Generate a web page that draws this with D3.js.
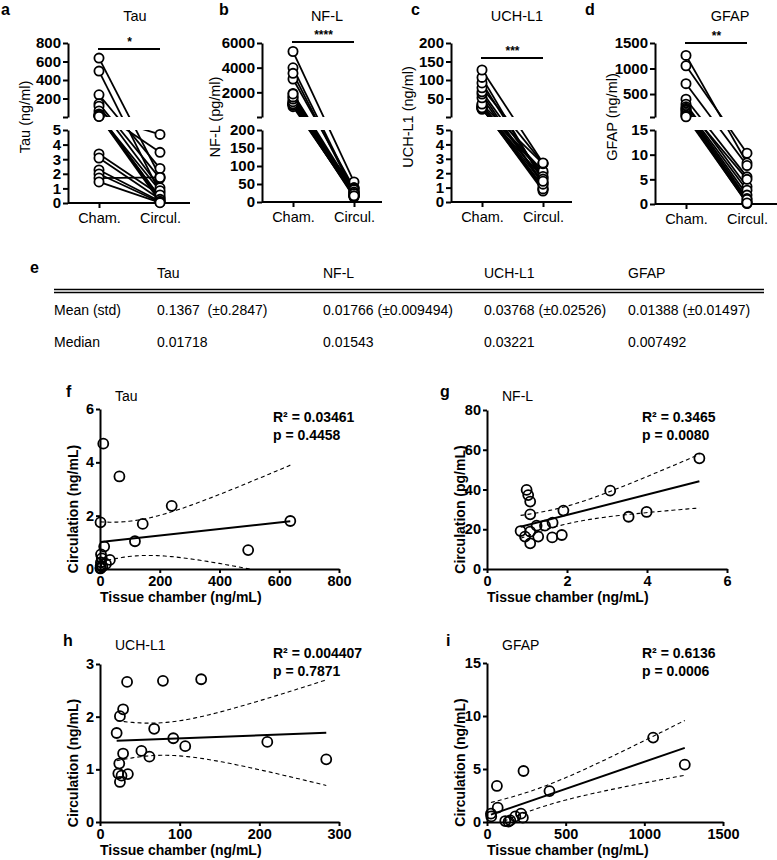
<!DOCTYPE html>
<html>
<head>
<meta charset="utf-8">
<script src="https://cdn.jsdelivr.net/npm/d3@7"></script>
<style>
  body { margin: 0; background: #fff; }
  svg text { font-family: "Liberation Sans", Arial, Helvetica, sans-serif; fill: #000; }
</style>
</head>
<body>
<svg id="fig" width="777" height="860"></svg>
<script>
// ---- data ----
var catLabels = ["Cham.", "Circul."];

// Tau (a, f): chamber ng/ml, circulation ng/ml
var tauChamber = [637, 496, 240, 143, 117, 65, 33, 20, 14, 11, 8, 6, 3.36, 3.08, 2.26, 1.99, 1.71, 1.44];
var tauCirc    = [1.80, 0.71, 2.37, 1.69, 1.04, 3.47, 0.34, 0.19, 0.84, 4.70, 0.09, 0.40, 0.55, 0.25, 0.12, 0.05, 1.75, 0.02];

// NF-L (b, g): chamber ng/mL, circulation pg/mL
var nflChamber = [5.31, 3.08, 3.99, 3.54, 1.91, 0.99, 1.03, 1.08, 1.08, 0.84, 0.95, 1.08, 1.08, 1.28, 1.24, 1.45, 1.64, 1.63, 1.87];
var nflCirc    = [55.7, 39.4, 28.7, 26.3, 29.4, 39.8, 37.2, 33.9, 27.5, 19.1, 16.3, 12.9, 18.8, 16.3, 21.8, 21.8, 23.3, 15.9, 17.1];

// UCH-L1 (c, h)
var uchChamber = [20.9, 24.2, 25, 29, 34, 29, 23, 27, 25, 35, 52, 62, 68, 79, 92, 107, 127, 210, 284];
var uchCirc    = [1.69, 1.11, 2.01, 2.14, 2.66, 1.30, 0.92, 0.88, 0.76, 0.91, 1.35, 1.24, 1.77, 2.68, 1.59, 1.44, 2.71, 1.52, 1.19];

// GFAP paired (d)
var gfapPairChamber = [1257, 1054, 703, 398, 300, 250, 220, 200, 180, 150, 120, 90, 70, 55];
var gfapPairCirc    = [8.3, 10.3, 7.8, 5.5, 3.5, 5.0, 2.8, 1.8, 1.1, 0.5, 0.3, 0.1, 0.9, 0.2];

// GFAP scatter (i)
var gfapChamber = [1056, 1257, 232, 63, 397, 68, 25, 27, 216, 228, 180, 116, 148, 137];
var gfapCirc    = [7.96, 5.41, 4.81, 3.40, 2.92, 1.35, 0.79, 0.53, 0.79, 0.41, 0.53, 0.09, 0.16, 0.03];

// axis ticks
var tauUpperTicks = [200, 400, 600, 800], tauLowerTicks = [0, 1, 2, 3, 4, 5];
var nflUpperTicks = [2000, 4000, 6000], nflLowerTicks = [0, 50, 100, 150, 200];
var uchUpperTicks = [50, 100, 150, 200], uchLowerTicks = [0, 1, 2, 3, 4, 5];
var gfapUpperTicks = [500, 1000, 1500], gfapLowerTicks = [0, 5, 10, 15];

var sigStars = ["*", "****", "***", "**"];
var r2Labels = ["R\u00b2 = 0.03461", "R\u00b2 = 0.3465", "R\u00b2 = 0.004407", "R\u00b2 = 0.6136"];
var pLabels = ["p = 0.4458", "p = 0.0080", "p = 0.7871", "p = 0.0006"];

// table e
var tableCols = ["Tau", "NF-L", "UCH-L1", "GFAP"];
var meanStd = ["0.1367  (\u00b10.2847)", "0.01766 (\u00b10.009494)", "0.03768 (\u00b10.02526)", "0.01388 (\u00b10.01497)"];
var medians = ["0.01718", "0.01543", "0.03221", "0.007492"];

var svg = d3.select("#fig");
var FONT = '"Liberation Sans", Arial, Helvetica, sans-serif';
var plain = function(v) { return String(v); };

function styleAxis(g, fs) {
  g.attr("font-family", FONT).attr("font-size", fs || 14).attr("font-weight", "bold");
  g.selectAll("path, line").attr("stroke", "#000").attr("stroke-width", 2);
  g.selectAll("text").attr("fill", "#000");
}

function letter(t, x, y) {
  svg.append("text").attr("x", x).attr("y", y).attr("font-size", 16)
    .attr("font-weight", "bold").text(t);
}

// ---- paired panels a-d ----
function paired(p) {
  var g = svg.append("g");
  var x = d3.scalePoint().domain(catLabels).range([p.ax + 31, p.ax + 92]);
  var yUp = d3.scaleLinear().domain(p.upDom).range([117, 43]);
  var yLo = d3.scaleLinear().domain(p.loDom).range([p.base, 130]);
  var yOf = function(v) { return v > p.loDom[1] ? yUp(v) : yLo(v); };

  var defs = g.append("defs");
  defs.append("clipPath").attr("id", p.id + "up").append("rect")
    .attr("x", p.ax).attr("y", 0).attr("width", p.xEnd - p.ax).attr("height", 117);
  defs.append("clipPath").attr("id", p.id + "lo").append("rect")
    .attr("x", p.ax).attr("y", 130).attr("width", p.xEnd - p.ax).attr("height", 90);

  var pairs = p.cham.map(function(c, i) { return [c * (p.k || 1), p.circ[i]]; })
    .filter(function(d) { return d[0] <= p.upDom[1]; });

  var line = d3.line();
  ["up", "lo"].forEach(function(part) {
    g.append("g").attr("clip-path", "url(#" + p.id + part + ")")
      .selectAll("path").data(pairs).enter().append("path")
      .attr("d", function(d) { return line([[x(catLabels[0]), yOf(d[0])], [x(catLabels[1]), yOf(d[1])]]); })
      .attr("stroke", "#000").attr("stroke-width", 1.8).attr("fill", "none");
  });

  // axes
  var upAx = g.append("g").attr("transform", "translate(" + p.ax + ",0)")
    .call(d3.axisLeft(yUp).tickValues([p.upDom[0]].concat(p.upTicks)).tickSize(5).tickSizeOuter(0)
      .tickPadding(2).tickFormat(function(v) { return v === p.upDom[0] ? "" : String(v); }));
  styleAxis(upAx, 15);
  var loAx = g.append("g").attr("transform", "translate(" + p.ax + ",0)")
    .call(d3.axisLeft(yLo).tickValues(p.loTicks).tickSize(5).tickSizeOuter(0).tickPadding(2).tickFormat(plain));
  styleAxis(loAx, 15);
  var xAx = g.append("g").attr("transform", "translate(0," + p.base + ")")
    .call(d3.axisBottom(x).tickSize(5).tickPadding(5));
  xAx.select(".domain").remove();
  xAx.append("line").attr("x1", p.ax).attr("x2", p.xEnd).attr("y1", 0).attr("y2", 0);
  styleAxis(xAx, 14.5);
  xAx.attr("font-weight", "normal");

  // points
  var pts = [];
  pairs.forEach(function(d) { pts.push([0, d[0]]); pts.push([1, d[1]]); });
  g.selectAll("circle").data(pts).enter().append("circle")
    .attr("cx", function(d) { return x(catLabels[d[0]]); })
    .attr("cy", function(d) { return yOf(d[1]); })
    .attr("r", 4.6).attr("fill", "#fff").attr("stroke", "#000").attr("stroke-width", 1.8);

  // significance bar
  g.append("line").attr("x1", x(catLabels[0]) - 1).attr("x2", x(catLabels[1]))
    .attr("y1", p.sigY).attr("y2", p.sigY).attr("stroke", "#000").attr("stroke-width", 2);
  g.append("text").attr("x", (x(catLabels[0]) + x(catLabels[1])) / 2).attr("y", p.sigY - 3)
    .attr("text-anchor", "middle").attr("font-size", 12).attr("font-weight", "bold").text(p.star);

  g.append("text").attr("x", p.titleX).attr("y", 21).attr("text-anchor", "middle")
    .attr("font-size", 14.5).text(p.title);
  g.append("text").attr("transform", "translate(" + p.labX + ",117) rotate(-90)")
    .attr("text-anchor", "middle").attr("font-size", 14.5).text(p.ylab);
  letter(p.letter, p.letX, 15);
}

paired({id: "a", ax: 68, xEnd: 190, base: 203, upDom: [0, 800], loDom: [0, 5],
  upTicks: tauUpperTicks, loTicks: tauLowerTicks, cham: tauChamber, circ: tauCirc,
  sigY: 49, star: sigStars[0], title: "Tau", titleX: 135, ylab: "Tau (ng/ml)", labX: 30,
  letter: "a", letX: 1});
paired({id: "b", ax: 262, xEnd: 382, base: 202, upDom: [0, 6000], loDom: [0, 200], k: 1000,
  upTicks: nflUpperTicks, loTicks: nflLowerTicks, cham: nflChamber, circ: nflCirc,
  sigY: 42, star: sigStars[1], title: "NF-L", titleX: 327, ylab: "NF-L (pg/ml)", labX: 220,
  letter: "b", letX: 219});
paired({id: "c", ax: 451, xEnd: 572, base: 202, upDom: [0, 200], loDom: [0, 5],
  upTicks: uchUpperTicks, loTicks: uchLowerTicks, cham: uchChamber, circ: uchCirc,
  sigY: 58, star: sigStars[2], title: "UCH-L1", titleX: 517, ylab: "UCH-L1 (ng/ml)", labX: 413,
  letter: "c", letX: 411});
paired({id: "d", ax: 655, xEnd: 777, base: 204, upDom: [50, 1500], loDom: [0, 15],
  upTicks: gfapUpperTicks, loTicks: gfapLowerTicks, cham: gfapPairChamber, circ: gfapPairCirc,
  sigY: 43, star: sigStars[3], title: "GFAP", titleX: 730, ylab: "GFAP (ng/ml)", labX: 617,
  letter: "d", letX: 585});

// ---- table e ----
letter("e", 30, 273);
var colX = [157, 323, 484, 628];
var tbl = svg.append("g").attr("font-size", 14);
tbl.selectAll(".hd").data(tableCols).enter().append("text")
  .attr("x", function(d, i) { return colX[i]; }).attr("y", 278).text(function(d) { return d; });
tbl.append("line").attr("x1", 54).attr("x2", 764).attr("y1", 289.5).attr("y2", 289.5).attr("stroke", "#000").attr("stroke-width", 1.5);
tbl.append("line").attr("x1", 54).attr("x2", 764).attr("y1", 292.5).attr("y2", 292.5).attr("stroke", "#000").attr("stroke-width", 1.5);
tbl.append("text").attr("x", 54).attr("y", 315).text("Mean (std)");
tbl.append("text").attr("x", 54).attr("y", 347).text("Median");
tbl.selectAll(".mn").data(meanStd).enter().append("text").style("white-space", "pre")
  .attr("x", function(d, i) { return colX[i]; }).attr("y", 315).text(function(d) { return d; });
tbl.selectAll(".md").data(medians).enter().append("text")
  .attr("x", function(d, i) { return colX[i]; }).attr("y", 347).text(function(d) { return d; });

// ---- regression scatter panels f-i ----
function tq(df) {
  var z = 1.959964;
  return z + (Math.pow(z, 3) + z) / (4 * df) + (5 * Math.pow(z, 5) + 16 * Math.pow(z, 3) + 3 * z) / (96 * df * df)
    + (3 * Math.pow(z, 7) + 19 * Math.pow(z, 5) + 17 * Math.pow(z, 3) - 15 * z) / (384 * Math.pow(df, 3));
}
function linfit(xs, ys) {
  var n = xs.length, mx = d3.mean(xs), my = d3.mean(ys), sxx = 0, sxy = 0, sse = 0;
  xs.forEach(function(v, i) { sxx += (v - mx) * (v - mx); sxy += (v - mx) * (ys[i] - my); });
  var b = sxy / sxx, a = my - b * mx;
  xs.forEach(function(v, i) { var r = ys[i] - (a + b * v); sse += r * r; });
  var s = Math.sqrt(sse / (n - 2)), t = tq(n - 2);
  return { f: function(v) { return a + b * v; },
           h: function(v) { return t * s * Math.sqrt(1 / n + (v - mx) * (v - mx) / sxx); } };
}

function scatter(p) {
  var g = svg.append("g");
  var x = d3.scaleLinear().domain(p.xDom).range([p.x0, p.x1]);
  var y = d3.scaleLinear().domain(p.yDom).range([p.y0, p.y1]);
  g.append("defs").append("clipPath").attr("id", "clip" + p.letter).append("rect")
    .attr("x", p.x0).attr("y", p.y1).attr("width", p.x1 - p.x0).attr("height", p.y0 - p.y1);

  var fit = linfit(p.xs, p.ys);
  var ext = d3.extent(p.xs);
  var grid = d3.range(0, 81).map(function(i) { return ext[0] + (ext[1] - ext[0]) * i / 80; });
  var line = d3.line().x(function(d) { return x(d[0]); }).y(function(d) { return y(d[1]); });
  var cg = g.append("g").attr("clip-path", "url(#clip" + p.letter + ")");
  [1, -1].forEach(function(sgn) {
    cg.append("path").attr("d", line(grid.map(function(v) { return [v, fit.f(v) + sgn * fit.h(v)]; })))
      .attr("fill", "none").attr("stroke", "#000").attr("stroke-width", 1.1).attr("stroke-dasharray", "4,3");
  });
  cg.append("path").attr("d", line(ext.map(function(v) { return [v, fit.f(v)]; })))
    .attr("fill", "none").attr("stroke", "#000").attr("stroke-width", 2);

  var xa = g.append("g").attr("transform", "translate(0," + p.y0 + ")")
    .call(d3.axisBottom(x).tickValues(p.xTicks).tickSize(4).tickSizeOuter(0).tickPadding(3).tickFormat(plain));
  styleAxis(xa, 14.5);
  var ya = g.append("g").attr("transform", "translate(" + p.x0 + ",0)")
    .call(d3.axisLeft(y).tickValues(p.yTicks).tickSize(4).tickSizeOuter(0).tickPadding(2).tickFormat(plain));
  styleAxis(ya, 14.5);

  g.selectAll("circle").data(p.xs).enter().append("circle")
    .attr("cx", function(d) { return x(d); })
    .attr("cy", function(d, i) { return y(p.ys[i]); })
    .attr("r", 5).attr("fill", "none").attr("stroke", "#000").attr("stroke-width", 1.8);

  letter(p.letter, p.letX, p.letY);
  g.append("text").attr("x", p.x0 + 15).attr("y", p.letY + 4).attr("font-size", 14).text(p.title);
  g.append("text").attr("x", p.statX).attr("y", p.statY).attr("font-size", 14).attr("font-weight", "bold").text(p.r2);
  g.append("text").attr("x", p.statX).attr("y", p.statY + 18).attr("font-size", 14).attr("font-weight", "bold").text(p.pv);
  g.append("text").attr("x", p.x0).attr("y", p.y0 + 33).attr("font-size", 14).attr("font-weight", "bold")
    .text("Tissue chamber (ng/mL)");
  g.append("text").attr("transform", "translate(" + (p.x0 - 22) + "," + ((p.y0 + p.y1) / 2 + 20) + ") rotate(-90)")
    .attr("text-anchor", "middle").attr("font-size", 14).attr("font-weight", "bold").text(p.ylab);
}

scatter({letter: "f", title: "Tau", x0: 100, x1: 339, y0: 569, y1: 409, xDom: [0, 800], yDom: [0, 6],
  xTicks: [0, 200, 400, 600, 800], yTicks: [0, 2, 4, 6], xs: tauChamber, ys: tauCirc,
  letX: 66, letY: 397, statX: 273, statY: 422, r2: r2Labels[0], pv: pLabels[0], ylab: "Circulation (ng/mL)"});
scatter({letter: "g", title: "NF-L", x0: 487, x1: 727, y0: 569, y1: 410, xDom: [0, 6], yDom: [0, 80],
  xTicks: [0, 2, 4, 6], yTicks: [0, 20, 40, 60, 80], xs: nflChamber, ys: nflCirc,
  letX: 440, letY: 397, statX: 642, statY: 422, r2: r2Labels[1], pv: pLabels[1], ylab: "Circulation (pg/mL)"});
scatter({letter: "h", title: "UCH-L1", x0: 100, x1: 339, y0: 822, y1: 664, xDom: [0, 300], yDom: [0, 3],
  xTicks: [0, 100, 200, 300], yTicks: [0, 1, 2, 3], xs: uchChamber, ys: uchCirc,
  letX: 63, letY: 646, statX: 273, statY: 658, r2: r2Labels[2], pv: pLabels[2], ylab: "Circulation (ng/mL)"});
scatter({letter: "i", title: "GFAP", x0: 487, x1: 723, y0: 822, y1: 663, xDom: [0, 1500], yDom: [0, 15],
  xTicks: [0, 500, 1000, 1500], yTicks: [0, 5, 10, 15], xs: gfapChamber, ys: gfapCirc,
  letX: 446, letY: 646, statX: 642, statY: 658, r2: r2Labels[3], pv: pLabels[3], ylab: "Circulation (ng/mL)"});
</script>
</body>
</html>
